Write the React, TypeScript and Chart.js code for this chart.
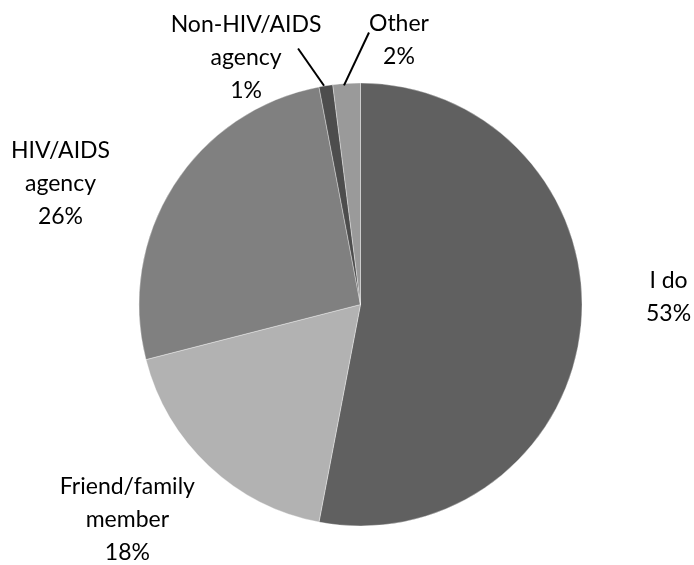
import React, { useEffect, useRef } from "react";
import { Chart, registerables } from "chart.js";

Chart.register(...registerables);

const categories: string[][] = [
  ["I do"],
  ["Friend/family", "member"],
  ["HIV/AIDS", "agency"],
  ["Non-HIV/AIDS", "agency"],
  ["Other"],
];
const values: number[] = [53, 18, 26, 1, 2];
const percentLabels: string[] = ["53%", "18%", "26%", "1%", "2%"];

const colors = ["#606060", "#b2b2b2", "#808080", "#4d4d4d", "#9a9a9a"];
// label offsets from the outer-edge point at each slice's mid angle
const labelOffsets: [number, number][] = [
  [87.5, -28.4],
  [-81.5, 53.7],
  [-113, -2.5],
  [-79.8, -28.2],
  [52.4, -42.9],
];
// leader lines (end offsets relative to edge point), null = none
const leaders: ([number, number, number, number] | null)[] = [
  null,
  null,
  null,
  [-1.8, 0, -27.8, -37.2],
  [-2.6, 2, 22.4, -50.9],
];

const labelPlugin = {
  id: "outLabels",
  afterDatasetsDraw(chart: any) {
    const ctx = chart.ctx;
    const meta = chart.getDatasetMeta(0);
    ctx.save();
    meta.data.forEach((arc: any, i: number) => {
      const { x, y, startAngle, endAngle, outerRadius } = arc.getProps(
        ["x", "y", "startAngle", "endAngle", "outerRadius"],
        true
      );
      const mid = (startAngle + endAngle) / 2;
      const ex = x + Math.cos(mid) * outerRadius;
      const ey = y + Math.sin(mid) * outerRadius;
      const ld = leaders[i];
      if (ld) {
        ctx.beginPath();
        ctx.strokeStyle = "#000";
        ctx.lineWidth = 2;
        ctx.moveTo(ex + ld[0], ey + ld[1]);
        ctx.lineTo(ex + ld[2], ey + ld[3]);
        ctx.stroke();
      }
      const lines = [...categories[i], percentLabels[i]];
      const lh = 33;
      const cx = ex + labelOffsets[i][0];
      const cy = ey + labelOffsets[i][1];
      ctx.fillStyle = "#000";
      ctx.font = "23px Lato";
      ctx.textAlign = "center";
      ctx.textBaseline = "middle";
      const top = cy - ((lines.length - 1) * lh) / 2;
      lines.forEach((t, k) => ctx.fillText(t, cx, top + k * lh));
    });
    ctx.restore();
  },
};

export default function App() {
  const ref = useRef<HTMLCanvasElement>(null);
  useEffect(() => {
    if (!ref.current) return;
    const chart = new Chart(ref.current, {
      type: "pie",
      data: {
        labels: categories.map((c) => c.join(" ")),
        datasets: [
          {
            data: values,
            backgroundColor: colors,
            borderColor: "rgba(255,255,255,0.35)",
            borderWidth: 1,
          },
        ],
      },
      options: {
        animation: false,
        responsive: true,
        maintainAspectRatio: false,
        layout: { padding: { left: 138.5, right: 111.5, top: 82.5, bottom: 38.5 } },
        plugins: {
          legend: { display: false },
          tooltip: { enabled: false },
        },
      },
      plugins: [labelPlugin],
    });
    return () => chart.destroy();
  }, []);
  return (
    <div style={{ position: "fixed", left: 0, top: 0, width: 694, height: 565, background: "#fff" }}>
      <canvas ref={ref} />
    </div>
  );
}
